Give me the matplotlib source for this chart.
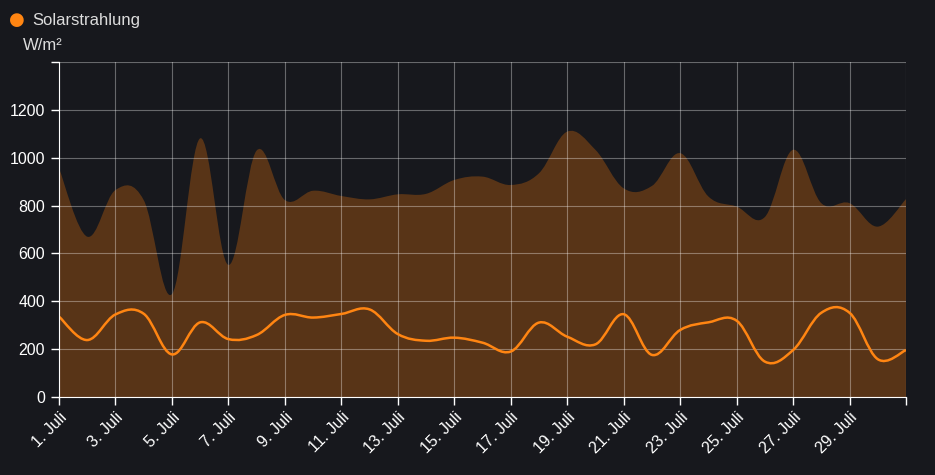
import numpy as np
import matplotlib.pyplot as plt
from matplotlib.path import Path
from matplotlib.patches import PathPatch

plt.rcParams['font.family'] = ['Liberation Sans', 'DejaVu Sans']

# daily values, July 1..31
days = list(range(1, 32))
max_vals = [956, 670, 865, 823, 430, 1081, 552, 1030, 823, 862, 840, 826, 847, 849, 907,
            921, 886, 935, 1109, 1033, 872, 882, 1019, 838, 796, 752, 1033, 810, 810, 712, 827]
mean_vals = [336, 238, 345, 348, 178, 312, 242, 259, 343, 332, 347, 366, 263, 235, 248,
             227, 190, 311, 252, 220, 346, 176, 280, 312, 319, 148, 196, 352, 352, 158, 196]
tick_days = list(range(1, 31, 2))
tick_labels = ["%d. Juli" % d for d in tick_days]
y_ticks = [0, 200, 400, 600, 800, 1000, 1200, 1400]

BG = "#17181d"
FILL = "#583417"
LINE = "#ff8512"
TXT = "#dcdcdc"


def smooth_path(x, y, close_to=None, t=0.18):
    # cardinal spline through the points, as cubic bezier segments
    x = np.asarray(x, float)
    y = np.asarray(y, float)
    verts = [(x[0], y[0])]
    codes = [Path.MOVETO]
    n = len(x)
    for i in range(n - 1):
        i0, i2 = max(i - 1, 0), min(i + 2, n - 1)
        c1 = (x[i] + t * (x[i + 1] - x[i0]), y[i] + t * (y[i + 1] - y[i0]))
        c2 = (x[i + 1] - t * (x[i2] - x[i]), y[i + 1] - t * (y[i2] - y[i]))
        verts += [c1, c2, (x[i + 1], y[i + 1])]
        codes += [Path.CURVE4] * 3
    if close_to is not None:
        verts += [(x[-1], close_to), (x[0], close_to), (x[0], y[0])]
        codes += [Path.LINETO, Path.LINETO, Path.CLOSEPOLY]
    return Path(verts, codes)


fig = plt.figure(figsize=(9.35, 4.75), dpi=100, facecolor=BG)
ax = fig.add_axes([59 / 935, 78 / 475, 847 / 935, 335 / 475])
ax.set_facecolor(BG)

ax.add_patch(PathPatch(smooth_path(days, max_vals, close_to=0), facecolor=FILL,
                       edgecolor="none", zorder=1))
ax.add_patch(PathPatch(smooth_path(days, mean_vals), facecolor="none",
                       edgecolor=LINE, lw=1.8, zorder=3))

ax.set_xlim(1, 31)
ax.set_ylim(0, 1400)
ax.set_xticks(tick_days + [31])
ax.set_xticklabels(tick_labels + [""], rotation=45, ha="right", rotation_mode="anchor",
                   color=TXT, fontsize=11.5)
ax.set_yticks(y_ticks)
ax.set_yticklabels([str(v) for v in y_ticks[:-1]] + [""], color=TXT, fontsize=11.5)
ax.tick_params(axis="both", colors="white", length=6, width=1)
ax.tick_params(axis="x", pad=3)
ax.tick_params(axis="y", pad=4)

ax.grid(True, color="white", alpha=0.35, lw=0.8, zorder=2)
ax.set_axisbelow(False)
for s in ["top", "right"]:
    ax.spines[s].set_visible(False)
for s in ["left", "bottom"]:
    ax.spines[s].set_color("white")
    ax.spines[s].set_zorder(4)

# legend + unit label
fig.text(17 / 935, 1 - 20 / 475, "\u25CF", color=LINE, fontsize=13,
         ha="center", va="center", family="DejaVu Sans")
fig.text(32 / 935, 1 - 21 / 475, "Solarstrahlung", color=TXT, fontsize=12, va="center")
fig.text(23 / 935, 1 - 46 / 475, "W/m²", color=TXT, fontsize=12, va="center")

fig.savefig("out.png", dpi=100, facecolor=BG)
